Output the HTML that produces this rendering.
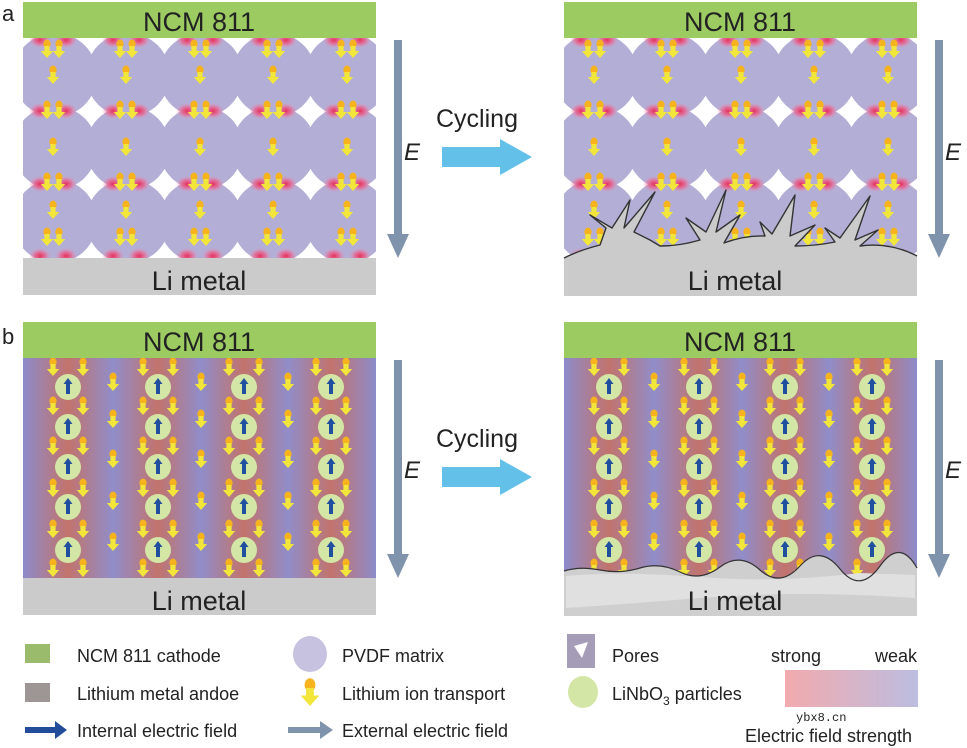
<!DOCTYPE html>
<html><head><meta charset="utf-8"><style>
html,body{margin:0;padding:0;background:#fff;}
svg{display:block;font-family:"Liberation Sans",Arial,sans-serif;}
</style></head><body>
<svg width="967" height="748" viewBox="0 0 967 748" xmlns="http://www.w3.org/2000/svg">
<defs>
<g id="ya"><ellipse cx="0" cy="-6" rx="3.6" ry="4.5" fill="#f6b31e"/><path d="M-2.6,-4 h5.2 v5 h3.6 l-6.2,7 l-6.2,-7 h3.6z" fill="#f3e63a"/></g>
<g id="yy"><use href="#ya" x="-6"/><use href="#ya" x="6"/></g>
<radialGradient id="glow"><stop offset="0" stop-color="#e8305a"/><stop offset="0.5" stop-color="#ee5a86" stop-opacity="0.7"/><stop offset="1" stop-color="#f08cb0" stop-opacity="0"/></radialGradient>
<g id="gl"><ellipse cx="-13" cy="0" rx="11" ry="8" fill="url(#glow)"/><ellipse cx="13" cy="0" rx="11" ry="8" fill="url(#glow)"/></g>
<clipPath id="ca"><rect x="23" y="38" width="353" height="220"/></clipPath>
<g id="colA">
 <use href="#gl" y="40"/><use href="#gl" y="111"/><use href="#gl" y="184"/><use href="#gl" y="256"/>
 <use href="#yy" y="50"/><use href="#ya" y="76"/><use href="#yy" y="111"/><use href="#ya" y="148"/><use href="#yy" y="183"/><use href="#ya" y="211"/><use href="#yy" y="238"/>
</g>
<g id="matA" clip-path="url(#ca)">
 <g fill="#b3aed6">
  <circle cx="55" cy="75" r="42"/><circle cx="128" cy="75" r="42"/><circle cx="201" cy="75" r="42"/><circle cx="274" cy="75" r="42"/><circle cx="347" cy="75" r="42"/>
  <circle cx="55" cy="148" r="42"/><circle cx="128" cy="148" r="42"/><circle cx="201" cy="148" r="42"/><circle cx="274" cy="148" r="42"/><circle cx="347" cy="148" r="42"/>
  <circle cx="55" cy="221" r="42"/><circle cx="128" cy="221" r="42"/><circle cx="201" cy="221" r="42"/><circle cx="274" cy="221" r="42"/><circle cx="347" cy="221" r="42"/>
 </g>
 <use href="#colA" x="53"/><use href="#colA" x="126"/><use href="#colA" x="200"/><use href="#colA" x="273"/><use href="#colA" x="347"/>
</g>
<linearGradient id="bg" gradientUnits="userSpaceOnUse" x1="23" y1="0" x2="376" y2="0">
 <stop offset="0" stop-color="#8d8bcb"/><stop offset="0.127" stop-color="#c2736c"/><stop offset="0.255" stop-color="#908dca"/>
 <stop offset="0.382" stop-color="#c2736c"/><stop offset="0.504" stop-color="#908dca"/><stop offset="0.626" stop-color="#c2736c"/>
 <stop offset="0.751" stop-color="#908dca"/><stop offset="0.873" stop-color="#c2736c"/><stop offset="1" stop-color="#8d8bcb"/>
</linearGradient>
<g id="lnb"><circle r="13" fill="#d3e6a5"/><path d="M0,-9 l4.5,6 h-2.5 v10 h-4 v-10 h-2.5z" fill="#1f4f9e"/></g>
<g id="colB">
 <use href="#ya" x="-15" y="368"/><use href="#ya" x="15" y="368"/>
 <use href="#ya" x="-15" y="407"/><use href="#ya" x="15" y="407"/>
 <use href="#ya" x="-15" y="447"/><use href="#ya" x="15" y="447"/>
 <use href="#ya" x="-15" y="489"/><use href="#ya" x="15" y="489"/>
 <use href="#ya" x="-15" y="530"/><use href="#ya" x="15" y="530"/>
 <use href="#ya" x="-15" y="569"/><use href="#ya" x="15" y="569"/>
 <use href="#lnb" y="387"/><use href="#lnb" y="427"/><use href="#lnb" y="467"/><use href="#lnb" y="507"/><use href="#lnb" y="550"/>
</g>
<g id="colS"><use href="#ya" y="383"/><use href="#ya" y="420"/><use href="#ya" y="460"/><use href="#ya" y="502"/><use href="#ya" y="543"/></g>
<g id="matB">
 <rect x="23" y="358" width="353" height="220" fill="url(#bg)"/>
 <use href="#colB" x="68"/><use href="#colB" x="158"/><use href="#colB" x="244"/><use href="#colB" x="331"/>
 <use href="#colS" x="113"/><use href="#colS" x="201"/><use href="#colS" x="288"/>
</g>
<g id="earrow" fill="#7f93ad"><rect x="-4" y="0" width="8" height="196"/><path d="M-11,194 h22 l-11,24z"/></g>
<g id="cyc"><text x="477" y="0" font-size="25" text-anchor="middle" fill="#222">Cycling</text><path d="M442,20 h58 v-8 l32,18 l-32,18 v-8 h-58z" fill="#62c0e9"/></g>
</defs>

<!-- Panel a -->
<text x="2" y="21" font-size="22" fill="#222">a</text>
<use href="#matA"/>
<rect x="23" y="2" width="353" height="36" fill="#9ccb62"/>
<text x="199" y="31" font-size="27" text-anchor="middle" fill="#222">NCM 811</text>
<rect x="23" y="258" width="353" height="37" fill="#cbcbcb"/>
<text x="199" y="290" font-size="27" text-anchor="middle" fill="#222">Li metal</text>
<use href="#earrow" x="398" y="40"/>
<text x="404" y="160" font-size="24" font-style="italic" fill="#222">E</text>
<use href="#cyc" y="127"/>

<use href="#matA" x="541"/>
<rect x="564" y="2" width="353" height="36" fill="#9ccb62"/>
<text x="740" y="31" font-size="27" text-anchor="middle" fill="#222">NCM 811</text>
<!-- dendrites -->
<path d="M564,258 Q580,250 600,245 L606,228 L590,215 L612,228 L630,200 L624,228 L655,192 L634,232 L650,240 L660,246 Q680,246 700,240 L686,218 L706,232 L726,190 L716,232 L740,215 L724,243 Q745,235 765,236 L760,222 L772,234 L795,195 L790,236 L815,225 L795,246 Q815,246 835,242 L825,228 L840,238 L870,196 L855,240 L878,230 L860,246 Q890,242 917,256 L917,296 L564,296z" fill="#cbcbcb"/>
<path d="M564,258 Q580,250 600,245 L606,228 L590,215 L612,228 L630,200 L624,228 L655,192 L634,232 L650,240 L660,246 Q680,246 700,240 L686,218 L706,232 L726,190 L716,232 L740,215 L724,243 Q745,235 765,236 L760,222 L772,234 L795,195 L790,236 L815,225 L795,246 Q815,246 835,242 L825,228 L840,238 L870,196 L855,240 L878,230 L860,246 Q890,242 917,256" fill="none" stroke="#333" stroke-width="1.4" stroke-linejoin="round"/>
<text x="735" y="290" font-size="27" text-anchor="middle" fill="#222">Li metal</text>
<use href="#earrow" x="939" y="40"/>
<text x="945" y="160" font-size="24" font-style="italic" fill="#222">E</text>

<!-- Panel b -->
<text x="2" y="344" font-size="22" fill="#222">b</text>
<use href="#matB"/>
<rect x="23" y="322" width="353" height="36" fill="#9ccb62"/>
<text x="199" y="351" font-size="27" text-anchor="middle" fill="#222">NCM 811</text>
<rect x="23" y="578" width="353" height="37" fill="#cbcbcb"/>
<text x="199" y="610" font-size="27" text-anchor="middle" fill="#222">Li metal</text>
<use href="#earrow" x="398" y="360"/>
<text x="404" y="478" font-size="24" font-style="italic" fill="#222">E</text>
<use href="#cyc" y="447"/>

<use href="#matB" x="541"/>
<rect x="564" y="322" width="353" height="36" fill="#9ccb62"/>
<text x="740" y="351" font-size="27" text-anchor="middle" fill="#222">NCM 811</text>
<path d="M564,571 Q580,566 600,570 T640,568 T680,572 T720,567 T760,570 T800,566 T840,569 T880,566 T917,568 L917,616 L564,616z" fill="#cfcfcf"/>
<path d="M566,576 Q620,571 700,577 T860,573 L915,575 L915,598 Q800,590 700,598 T566,608z" fill="#e0e0e0"/>
<path d="M564,571 Q580,566 600,570 T640,568 T680,572 T720,567 T760,570 T800,566 T840,569 T880,566 T917,568" fill="none" stroke="#333" stroke-width="1.2"/>
<text x="735" y="610" font-size="27" text-anchor="middle" fill="#222">Li metal</text>
<use href="#earrow" x="939" y="360"/>
<text x="945" y="478" font-size="24" font-style="italic" fill="#222">E</text>

<!-- Legend -->
<g font-size="18" fill="#222">
<rect x="25" y="644" width="25" height="19" fill="#9abb6c"/>
<text x="77" y="662">NCM 811 cathode</text>
<ellipse cx="310" cy="654" rx="17" ry="18" fill="#c6c2e0"/>
<text x="342" y="662">PVDF matrix</text>
<rect x="567" y="634" width="28" height="34" fill="#a59cb8"/>
<path d="M574,646 L588,642 L582,658z" fill="#fff"/>
<text x="612" y="662">Pores</text>
<text x="771" y="662">strong</text>
<text x="875" y="662">weak</text>
<rect x="25" y="683" width="25" height="19" fill="#9e9694"/>
<text x="77" y="700">Lithium metal andoe</text>
<g transform="translate(310,694) scale(1.5)"><use href="#ya"/></g>
<text x="342" y="700">Lithium ion transport</text>
<ellipse cx="583" cy="692" rx="15" ry="16" fill="#d3e6a5"/>
<text x="612" y="700">LiNbO<tspan font-size="12" dy="5">3</tspan><tspan dy="-5"> particles</tspan></text>
<defs><linearGradient id="lg"><stop offset="0" stop-color="#f2aaad"/><stop offset="1" stop-color="#bcbde0"/></linearGradient></defs>
<rect x="785" y="670" width="133" height="37" fill="url(#lg)"/>
<text x="796" y="721" font-size="12" font-family="Liberation Mono,monospace">ybx8.cn</text>
<path d="M25,727 h30 v-6 l12,9 l-12,9 v-6 h-30z" fill="#234d9b"/>
<text x="77" y="737">Internal electric field</text>
<path d="M288,727 h32 v-6 l13,9 l-13,9 v-6 h-32z" fill="#7f93ad"/>
<text x="342" y="737">External electric field</text>
<text x="745" y="742">Electric field strength</text>
</g>
</svg>
</body></html>
